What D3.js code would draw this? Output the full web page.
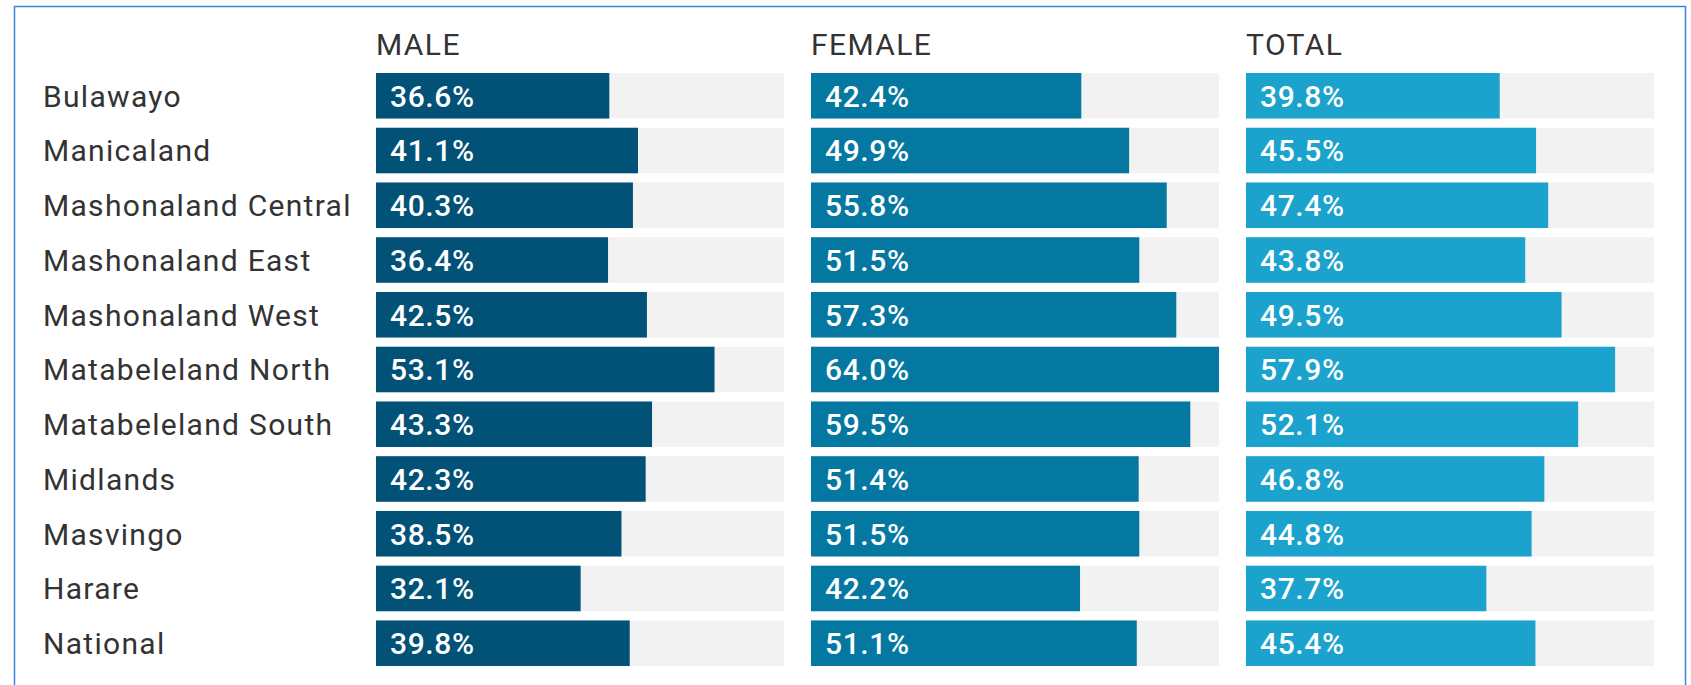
<!DOCTYPE html>
<html>
<head>
<meta charset="utf-8">
<script src="https://cdn.jsdelivr.net/npm/d3@7"></script>
<style>
    body { margin: 0; background: #fff; }
    svg { display: block; font-family: Roboto, "Noto Sans", sans-serif; }
</style>
</head>
<body>
<div id="chart"></div>
<script>
// regions in display order
const regions = ["Bulawayo", "Manicaland", "Mashonaland Central", "Mashonaland East", "Mashonaland West",
    "Matabeleland North", "Matabeleland South", "Midlands", "Masvingo", "Harare", "National"];

// percentages per series
const male   = [36.6, 41.1, 40.3, 36.4, 42.5, 53.1, 43.3, 42.3, 38.5, 32.1, 39.8];
const female = [42.4, 49.9, 55.8, 51.5, 57.3, 64.0, 59.5, 51.4, 51.5, 42.2, 51.1];
const total  = [39.8, 45.5, 47.4, 43.8, 49.5, 57.9, 52.1, 46.8, 44.8, 37.7, 45.4];

const seriesNames = ["MALE", "FEMALE", "TOTAL"];
const seriesColors = ["#025177", "#0478a0", "#1ba2cd"];
const seriesValues = [male, female, total];

const width = 1691, height = 685;

const svg = d3.select("#chart")
    .append("svg")
    .attr("width", width)
    .attr("height", height);

// outer frame (bottom edge falls off the picture)
svg.append("path")
    .attr("d", "M14.5," + (height + 2) + " V6.5 H1685.5 V" + (height + 2))
    .attr("fill", "none")
    .attr("stroke", "#3f82d4")
    .attr("stroke-width", 1.5);

// rows
const y = d3.scaleBand()
    .domain(regions)
    .range([73, 666])
    .paddingInner(0.168)
    .paddingOuter(0);

// columns
const col = d3.scaleBand()
    .domain(seriesNames)
    .range([376, 1654])
    .paddingInner(27 / 435)
    .paddingOuter(0);

// every column shares the same length scale, max value fills the track
const maxVal = d3.max([...male, ...female, ...total]);
const x = d3.scaleLinear()
    .domain([0, maxVal])
    .range([0, col.bandwidth()]);

// region labels
svg.append("g")
    .selectAll("text")
    .data(regions)
    .enter()
    .append("text")
    .attr("x", 43)
    .attr("y", d => y(d) + y.bandwidth() / 2)
    .attr("dy", "0.36em")
    .attr("font-size", 30)
    .attr("letter-spacing", 1.3)
    .attr("fill", "#333")
    .text(d => d);

seriesNames.forEach((name, s) => {
    let g = svg.append("g")
        .attr("transform", `translate(${col(name)}, 0)`);

    // column header
    g.append("text")
        .attr("x", 0)
        .attr("y", 55)
        .attr("font-size", 30)
        .attr("letter-spacing", 1.4)
        .attr("fill", "#333")
        .text(name);

    let rows = g.selectAll(".row")
        .data(seriesValues[s].map((v, i) => ({region: regions[i], value: v})))
        .enter()
        .append("g")
        .attr("class", "row")
        .attr("transform", d => `translate(0, ${y(d.region)})`);

    // track
    rows.append("rect")
        .attr("width", col.bandwidth())
        .attr("height", y.bandwidth())
        .attr("fill", "#f2f2f2");

    // bar
    rows.append("rect")
        .attr("width", d => x(d.value))
        .attr("height", y.bandwidth())
        .attr("fill", seriesColors[s]);

    // value label
    rows.append("text")
        .attr("x", 14)
        .attr("y", y.bandwidth() / 2)
        .attr("dy", "0.36em")
        .attr("font-size", 30)
        .attr("font-weight", 500)
        .attr("letter-spacing", 0.6)
        .attr("fill", "#fff")
        .text(d => d.value.toFixed(1) + "%");
});
</script>
</body>
</html>
